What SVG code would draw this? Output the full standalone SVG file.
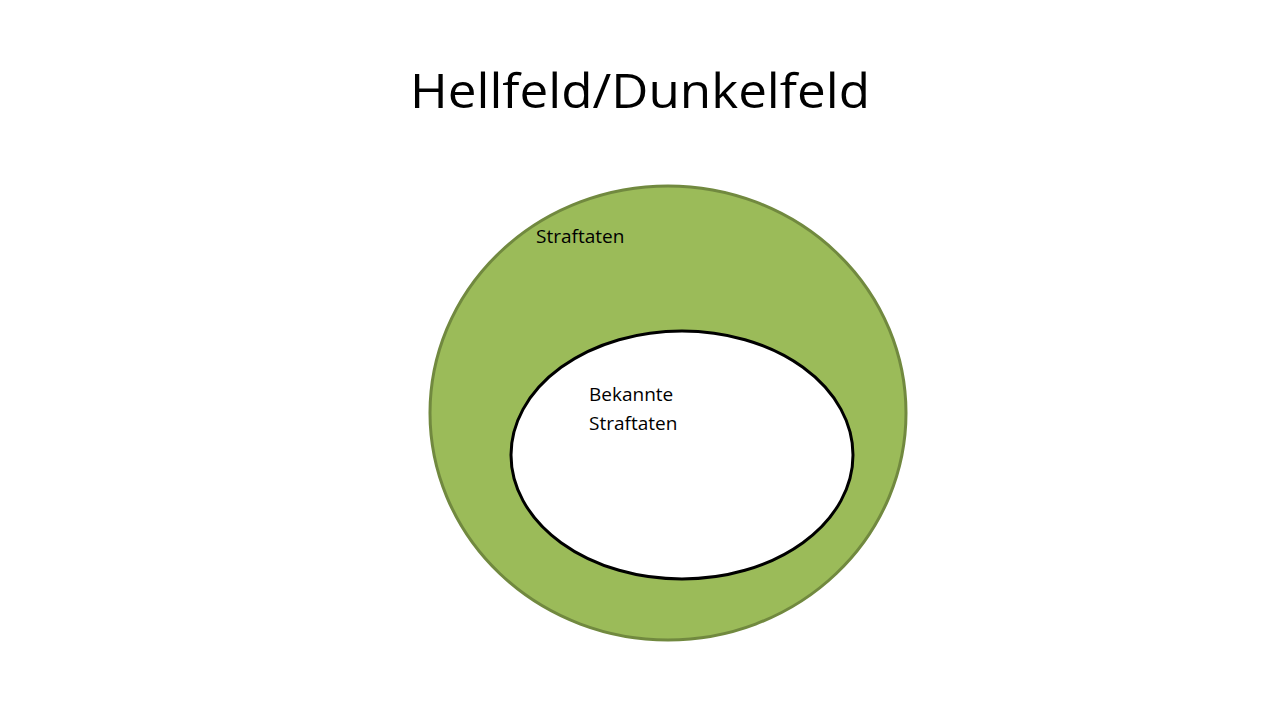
<svg xmlns="http://www.w3.org/2000/svg" width="1280" height="720" viewBox="0 0 1280 720">
<style>
text{font-family:"Open Sans","Liberation Sans",sans-serif;fill:#000}
.l{font-size:19px}
</style>
<rect width="1280" height="720" fill="#fff"/>
<text x="640" y="108" font-size="48" text-anchor="middle" textLength="460" lengthAdjust="spacingAndGlyphs">Hellfeld/Dunkelfeld</text>
<g id="outer">
<ellipse cx="668" cy="413" rx="238" ry="227" fill="#9BBB59" stroke="#71893F" stroke-width="3"/>
<text class="l" x="536" y="243">Straftaten</text>
</g>
<g id="inner">
<ellipse cx="682" cy="455" rx="171" ry="124" fill="#fff" stroke="#000" stroke-width="3"/>
<text class="l" x="589" y="401">Bekannte</text>
<text class="l" x="589" y="430">Straftaten</text>
</g>
<g id="connectors"/>
</svg>
